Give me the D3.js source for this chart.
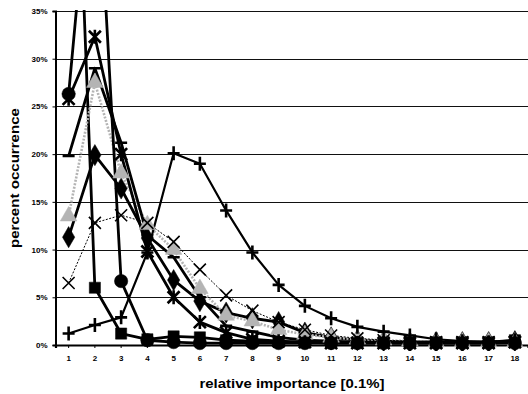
<!DOCTYPE html>
<html>
<head>
<meta charset="utf-8">
<script src="https://cdn.jsdelivr.net/npm/d3@7"></script>
<style>
  html, body { margin: 0; padding: 0; background: #fff; }
  svg { display: block; font-family: "Liberation Sans", Arial, sans-serif; }
  .tick-label { font-size: 8px; font-weight: bold; fill: #000; }
  .axis-title { font-size: 13px; font-weight: bold; fill: #000; }
</style>
</head>
<body>
<svg id="chart" width="528" height="394"></svg>
<script>
// categories (relative importance, 0.1% steps)
const categories = d3.range(1, 19);
const yTicks = [0, 5, 10, 15, 20, 25, 30, 35];

// series values, percent occurrence
const diamondValues = [11.3, 19.9, 16.4, 11.2, 6.8, 4.6, 3.4, 2.8, 2.4, 1.3, 0.8, 0.5, 0.4, 0.3, 0.3, 0.3, 0.3, 0.4];
const squareValues  = [77, 6.0, 1.2, 0.6, 0.9, 0.8, 0.5, 0.4, 0.3, 0.3, 0.3, 0.3, 0.3, 0.3, 0.3, 0.3, 0.3, 0.5];
const triangleValues = [13.5, 27.5, 18.0, 12.6, 10.0, 5.9, 3.1, 2.5, 1.6, 1.1, 0.8, 0.6, 0.5, 0.4, 0.3, 0.3, 0.3, 0.3];
const crossValues   = [6.5, 12.8, 13.6, 12.8, 10.8, 7.9, 5.2, 3.6, 2.4, 1.6, 1.0, 0.7, 0.5, 0.4, 0.3, 0.3, 0.3, 0.3];
const starValues    = [25.8, 32.3, 20.0, 9.8, 5.0, 2.4, 1.3, 0.6, 0.4, 0.3, 0.2, 0.2, 0.2, 0.2, 0.2, 0.2, 0.2, 0.3];
const circleValues  = [26.3, 56, 6.7, 0.5, 0.3, 0.2, 0.2, 0.2, 0.2, 0.2, 0.2, 0.2, 0.2, 0.2, 0.2, 0.2, 0.2, 0.2];
const plusValues    = [1.2, 2.1, 2.9, 9.7, 20.1, 19.0, 14.1, 9.7, 6.3, 4.1, 2.8, 1.9, 1.4, 1.0, 0.6, 0.4, 0.3, 0.5];
const dashValues    = [19.8, 29.0, 21.2, 11.5, 9.2, 5.0, 2.0, 1.4, 0.8, 0.5, 0.4, 0.3, 0.3, 0.3, 0.3, 0.3, 0.3, 0.4];

const series = [
  { name: 'diamond',  values: diamondValues,  marker: 'diamond',  color: '#000', width: 2.8, dash: null },
  { name: 'square',   values: squareValues,   marker: 'square',   color: '#000', width: 2.8, dash: null },
  { name: 'triangle', values: triangleValues, marker: 'triangle', color: '#b4b4b4', width: 2.6, dash: '2,1.5' },
  { name: 'cross',    values: crossValues,    marker: 'cross',    color: '#000', width: 1, dash: '2,1.5' },
  { name: 'star',     values: starValues,     marker: 'star',     color: '#000', width: 2.8, dash: null },
  { name: 'circle',   values: circleValues,   marker: 'circle',   color: '#000', width: 2.8, dash: null },
  { name: 'plus',     values: plusValues,     marker: 'plus',     color: '#000', width: 2.2, dash: null },
  { name: 'dash',     values: dashValues,     marker: 'dash',     color: '#000', width: 2.8, dash: null }
];

const svg = d3.select('#chart');
const plot = { left: 55.5, right: 528, top: 11, bottom: 345 };

const x = d3.scaleBand()
  .domain(categories)
  .range([plot.left, plot.right]);
const cx = d => x(d) + x.bandwidth() / 2;

const y = d3.scaleLinear()
  .domain([0, 35])
  .range([plot.bottom, plot.top]);

svg.append('defs').append('clipPath')
  .attr('id', 'plot-clip')
  .append('rect')
  .attr('x', plot.left)
  .attr('y', plot.top - 1)
  .attr('width', plot.right - plot.left)
  .attr('height', plot.bottom - plot.top + 7);

// gridlines
svg.append('g')
  .selectAll('line')
  .data(yTicks.filter(t => t > 0))
  .enter()
  .append('line')
  .attr('x1', plot.left)
  .attr('x2', plot.right)
  .attr('y1', d => Math.round(y(d)) + 0.5)
  .attr('y2', d => Math.round(y(d)) + 0.5)
  .attr('stroke', '#111')
  .attr('stroke-width', 1.2);

// y axis
const yAxis = svg.append('g')
  .attr('transform', `translate(${plot.left},0)`)
  .call(d3.axisLeft(y).tickValues(yTicks).tickSize(3).tickPadding(5).tickFormat(d => d + '%'));
yAxis.select('.domain').attr('stroke', '#000').attr('stroke-width', 2);
yAxis.selectAll('.tick line').attr('stroke', '#000');
yAxis.selectAll('text').attr('class', 'tick-label').attr('font-family', null).attr('font-size', null);

// x axis
const xAxis = svg.append('g')
  .attr('transform', `translate(0,${plot.bottom})`)
  .call(d3.axisBottom(x).tickSize(3).tickPadding(7));
xAxis.select('.domain').attr('stroke', '#000').attr('stroke-width', 2.2);
xAxis.selectAll('.tick line').attr('stroke', '#000');
xAxis.selectAll('text').attr('class', 'tick-label').attr('font-family', null).attr('font-size', null);

// axis titles
svg.append('text')
  .attr('class', 'axis-title')
  .attr('x', 292)
  .attr('y', 388)
  .attr('text-anchor', 'middle')
  .attr('textLength', 185)
  .attr('lengthAdjust', 'spacingAndGlyphs')
  .text('relative importance [0.1%]');

svg.append('text')
  .attr('class', 'axis-title')
  .attr('transform', 'translate(19,178) rotate(-90)')
  .attr('text-anchor', 'middle')
  .attr('textLength', 140)
  .attr('lengthAdjust', 'spacingAndGlyphs')
  .text('percent occurrence');

// marker shapes
const markerPath = (type) => {
  switch (type) {
    case 'diamond':  return d3.symbol(d3.symbolDiamond, 130)();
    case 'square':   return d3.symbol(d3.symbolSquare, 125)();
    case 'triangle': return d3.symbol(d3.symbolTriangle, 120)();
    case 'circle':   return d3.symbol(d3.symbolCircle, 140)();
    case 'cross':    return 'M-6,-6L6,6M-6,6L6,-6';
    case 'star':     return 'M-6,-6L6,6M-6,6L6,-6M0,-7L0,7';
    case 'plus':     return 'M-6,0L6,0M0,-7L0,7';
    case 'dash':     return 'M-6,0L6,0';
  }
};
const filledMarker = t => ['diamond', 'square', 'triangle', 'circle'].includes(t);

const line = d3.line()
  .x((d, i) => cx(categories[i]))
  .y(d => y(d));

const chartGroup = svg.append('g').attr('clip-path', 'url(#plot-clip)');

const lineGroup = chartGroup.append('g').attr('class', 'lines');
lineGroup.selectAll('path')
  .data(series)
  .enter()
  .append('path')
  .attr('d', s => line(s.values))
  .attr('fill', 'none')
  .attr('stroke', s => s.color)
  .attr('stroke-width', s => s.width)
  .attr('stroke-dasharray', s => s.dash)
  .attr('stroke-linejoin', 'round');

const markerGroup = chartGroup.append('g').attr('class', 'markers');
series.forEach(s => {
  markerGroup.append('g')
    .selectAll('path')
    .data(s.values)
    .enter()
    .append('path')
    .attr('transform', (d, i) => `translate(${cx(categories[i])},${y(d)})`)
    .attr('d', markerPath(s.marker))
    .attr('fill', filledMarker(s.marker) ? s.color : 'none')
    .attr('stroke', s.color)
    .attr('stroke-width', filledMarker(s.marker) ? 0.5 : (s.marker === 'cross' ? 1.6 : 2.6));
});
</script>
</body>
</html>
